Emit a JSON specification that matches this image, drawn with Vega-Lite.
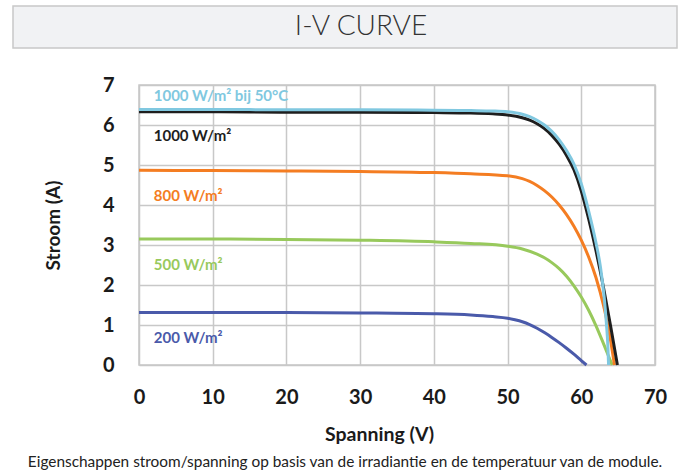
{
  "$schema": "https://vega.github.io/schema/vega-lite/v6.json",
  "padding": {"left": 12, "top": 5, "right": 8, "bottom": 2},
  "background": "white",
  "config": {"view": {"stroke": "#c8c8c8", "strokeWidth": 1.5}, "font": "Lato"},
  "title": {
    "text": "Eigenschappen stroom/spanning op basis van de irradiantie en de temperatuur van de module.",
    "orient": "bottom", "anchor": "middle", "font": "Lato", "fontSize": 15.4, "fontWeight": "normal", "color": "#222222", "offset": 11
  },
  "datasets": {
    "curves": [
      {"series": "200 W/m²", "V": 0, "I": 1.31}, {"series": "200 W/m²", "V": 10, "I": 1.31}, {"series": "200 W/m²", "V": 20, "I": 1.31}, {"series": "200 W/m²", "V": 30, "I": 1.3}, {"series": "200 W/m²", "V": 40, "I": 1.28}, {"series": "200 W/m²", "V": 45, "I": 1.25}, {"series": "200 W/m²", "V": 48, "I": 1.21}, {"series": "200 W/m²", "V": 50, "I": 1.17}, {"series": "200 W/m²", "V": 51, "I": 1.13}, {"series": "200 W/m²", "V": 52, "I": 1.08}, {"series": "200 W/m²", "V": 53, "I": 1.01}, {"series": "200 W/m²", "V": 54, "I": 0.92}, {"series": "200 W/m²", "V": 55, "I": 0.81}, {"series": "200 W/m²", "V": 56, "I": 0.69}, {"series": "200 W/m²", "V": 57, "I": 0.56}, {"series": "200 W/m²", "V": 58, "I": 0.42}, {"series": "200 W/m²", "V": 59, "I": 0.27}, {"series": "200 W/m²", "V": 60, "I": 0.11}, {"series": "200 W/m²", "V": 60.7, "I": 0},
      {"series": "500 W/m²", "V": 0, "I": 3.15}, {"series": "500 W/m²", "V": 10, "I": 3.15}, {"series": "500 W/m²", "V": 20, "I": 3.14}, {"series": "500 W/m²", "V": 30, "I": 3.12}, {"series": "500 W/m²", "V": 40, "I": 3.08}, {"series": "500 W/m²", "V": 45, "I": 3.04}, {"series": "500 W/m²", "V": 50, "I": 2.97}, {"series": "500 W/m²", "V": 52, "I": 2.9}, {"series": "500 W/m²", "V": 54, "I": 2.77}, {"series": "500 W/m²", "V": 55, "I": 2.68}, {"series": "500 W/m²", "V": 56, "I": 2.56}, {"series": "500 W/m²", "V": 57, "I": 2.41}, {"series": "500 W/m²", "V": 58, "I": 2.22}, {"series": "500 W/m²", "V": 59, "I": 1.98}, {"series": "500 W/m²", "V": 60, "I": 1.7}, {"series": "500 W/m²", "V": 61, "I": 1.37}, {"series": "500 W/m²", "V": 62, "I": 0.98}, {"series": "500 W/m²", "V": 63, "I": 0.54}, {"series": "500 W/m²", "V": 63.7, "I": 0.22}, {"series": "500 W/m²", "V": 64.2, "I": 0},
      {"series": "800 W/m²", "V": 0, "I": 4.87}, {"series": "800 W/m²", "V": 10, "I": 4.86}, {"series": "800 W/m²", "V": 20, "I": 4.85}, {"series": "800 W/m²", "V": 30, "I": 4.84}, {"series": "800 W/m²", "V": 40, "I": 4.81}, {"series": "800 W/m²", "V": 45, "I": 4.78}, {"series": "800 W/m²", "V": 50, "I": 4.73}, {"series": "800 W/m²", "V": 52, "I": 4.66}, {"series": "800 W/m²", "V": 53, "I": 4.59}, {"series": "800 W/m²", "V": 54, "I": 4.49}, {"series": "800 W/m²", "V": 55, "I": 4.36}, {"series": "800 W/m²", "V": 56, "I": 4.2}, {"series": "800 W/m²", "V": 57, "I": 4.0}, {"series": "800 W/m²", "V": 58, "I": 3.76}, {"series": "800 W/m²", "V": 59, "I": 3.47}, {"series": "800 W/m²", "V": 60, "I": 3.12}, {"series": "800 W/m²", "V": 61, "I": 2.7}, {"series": "800 W/m²", "V": 62, "I": 2.18}, {"series": "800 W/m²", "V": 63, "I": 1.5}, {"series": "800 W/m²", "V": 63.8, "I": 0.8}, {"series": "800 W/m²", "V": 64.5, "I": 0},
      {"series": "1000 W/m²", "V": 0, "I": 6.33}, {"series": "1000 W/m²", "V": 10, "I": 6.33}, {"series": "1000 W/m²", "V": 20, "I": 6.32}, {"series": "1000 W/m²", "V": 30, "I": 6.32}, {"series": "1000 W/m²", "V": 40, "I": 6.31}, {"series": "1000 W/m²", "V": 45, "I": 6.3}, {"series": "1000 W/m²", "V": 48, "I": 6.28}, {"series": "1000 W/m²", "V": 50, "I": 6.25}, {"series": "1000 W/m²", "V": 52, "I": 6.18}, {"series": "1000 W/m²", "V": 53, "I": 6.12}, {"series": "1000 W/m²", "V": 54, "I": 6.03}, {"series": "1000 W/m²", "V": 55, "I": 5.91}, {"series": "1000 W/m²", "V": 56, "I": 5.74}, {"series": "1000 W/m²", "V": 57, "I": 5.52}, {"series": "1000 W/m²", "V": 58, "I": 5.24}, {"series": "1000 W/m²", "V": 59, "I": 4.88}, {"series": "1000 W/m²", "V": 60, "I": 4.35}, {"series": "1000 W/m²", "V": 61, "I": 3.65}, {"series": "1000 W/m²", "V": 62, "I": 2.85}, {"series": "1000 W/m²", "V": 63, "I": 1.95}, {"series": "1000 W/m²", "V": 64, "I": 0.95}, {"series": "1000 W/m²", "V": 64.9, "I": 0},
      {"series": "1000 W/m² bij 50°C", "V": 0, "I": 6.39}, {"series": "1000 W/m² bij 50°C", "V": 10, "I": 6.39}, {"series": "1000 W/m² bij 50°C", "V": 20, "I": 6.38}, {"series": "1000 W/m² bij 50°C", "V": 30, "I": 6.38}, {"series": "1000 W/m² bij 50°C", "V": 40, "I": 6.37}, {"series": "1000 W/m² bij 50°C", "V": 45, "I": 6.36}, {"series": "1000 W/m² bij 50°C", "V": 48, "I": 6.35}, {"series": "1000 W/m² bij 50°C", "V": 50, "I": 6.33}, {"series": "1000 W/m² bij 50°C", "V": 52, "I": 6.27}, {"series": "1000 W/m² bij 50°C", "V": 53, "I": 6.21}, {"series": "1000 W/m² bij 50°C", "V": 54, "I": 6.12}, {"series": "1000 W/m² bij 50°C", "V": 55, "I": 6.0}, {"series": "1000 W/m² bij 50°C", "V": 56, "I": 5.84}, {"series": "1000 W/m² bij 50°C", "V": 57, "I": 5.63}, {"series": "1000 W/m² bij 50°C", "V": 58, "I": 5.36}, {"series": "1000 W/m² bij 50°C", "V": 59, "I": 5.02}, {"series": "1000 W/m² bij 50°C", "V": 60, "I": 4.53}, {"series": "1000 W/m² bij 50°C", "V": 61, "I": 3.85}, {"series": "1000 W/m² bij 50°C", "V": 62, "I": 3.05}, {"series": "1000 W/m² bij 50°C", "V": 62.6, "I": 2.45}, {"series": "1000 W/m² bij 50°C", "V": 63.1, "I": 1.7}, {"series": "1000 W/m² bij 50°C", "V": 63.4, "I": 1.05}, {"series": "1000 W/m² bij 50°C", "V": 63.6, "I": 0.5}, {"series": "1000 W/m² bij 50°C", "V": 63.7, "I": 0}
    ],
    "labels": [
      {"series": "1000 W/m² bij 50°C", "V": 2.0, "I": 6.72},
      {"series": "1000 W/m²", "V": 2.0, "I": 5.72},
      {"series": "800 W/m²", "V": 2.0, "I": 4.22},
      {"series": "500 W/m²", "V": 2.0, "I": 2.51},
      {"series": "200 W/m²", "V": 2.0, "I": 0.68}
    ]
  },
  "spacing": 25,
  "vconcat": [
    {
      "width": 664,
      "height": 42,
      "view": {"fill": "#f1f2f4", "stroke": "#c8c8c8", "strokeWidth": 1.5},
      "data": {"values": [{"t": "I-V CURVE"}]},
      "mark": {"type": "text", "font": "Lato", "fontWeight": 300, "fontSize": 28, "color": "#333333", "dx": 16},
      "encoding": {"text": {"field": "t", "type": "nominal"}}
    },
    {
      "spacing": 0,
      "hconcat": [
        {
          "width": 30,
          "height": 10,
          "view": {"stroke": null},
          "data": {"values": [{"t": ""}]},
          "mark": {"type": "text"},
          "encoding": {"text": {"field": "t", "type": "nominal"}}
        },
        {
          "width": 516,
          "height": 280,
          "encoding": {
            "x": {
              "field": "V", "type": "quantitative",
              "scale": {"domain": [0, 70], "nice": false, "zero": false},
              "axis": {
                "title": "Spanning (V)", "values": [0, 10, 20, 30, 40, 50, 60, 70],
                "labelFont": "Lato", "labelFontSize": 20, "labelFontWeight": "bold", "labelColor": "#1a1a1a",
                "labelPadding": 22, "labelFlush": false, "ticks": false, "domain": false,
                "gridColor": "#c8c8c8", "gridWidth": 1.5,
                "titleFont": "Lato", "titleFontSize": 19.5, "titleFontWeight": "bold", "titleColor": "#1a1a1a",
                "titlePadding": 18, "titleX": 240
              }
            },
            "y": {
              "field": "I", "type": "quantitative",
              "scale": {"domain": [0, 7], "nice": false, "zero": false},
              "axis": {
                "title": "Stroom (A)", "values": [0, 1, 2, 3, 4, 5, 6, 7],
                "labelFont": "Lato", "labelFontSize": 20, "labelFontWeight": "bold", "labelColor": "#1a1a1a",
                "labelPadding": 25, "labelFlush": false, "ticks": false, "domain": false,
                "gridColor": "#c8c8c8", "gridWidth": 1.5,
                "titleFont": "Lato", "titleFontSize": 19, "titleFontWeight": "bold", "titleColor": "#1a1a1a",
                "titlePadding": 39
              }
            },
            "color": {
              "field": "series", "type": "nominal",
              "scale": {
                "domain": ["200 W/m²", "500 W/m²", "800 W/m²", "1000 W/m²", "1000 W/m² bij 50°C"],
                "range": ["#4a5aaa", "#98c95c", "#f47d22", "#1e1e1e", "#80c8e0"]
              },
              "legend": null
            }
          },
          "layer": [
            {
              "data": {"name": "curves"},
              "mark": {"type": "line", "interpolate": "monotone", "strokeWidth": 3}
            },
            {
              "data": {"name": "labels"},
              "mark": {"type": "text", "align": "left", "baseline": "middle", "font": "Lato", "fontWeight": "bold", "fontSize": 15},
              "encoding": {"text": {"field": "series", "type": "nominal"}}
            }
          ]
        }
      ]
    }
  ]
}
